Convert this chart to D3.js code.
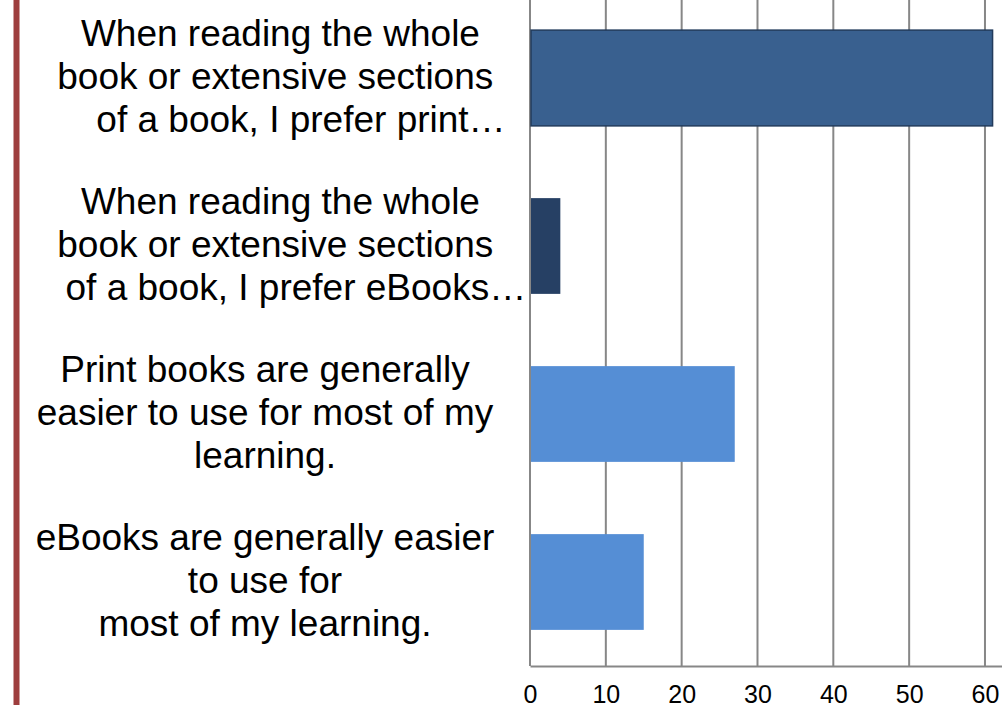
<!DOCTYPE html>
<html>
<head>
<meta charset="utf-8">
<script src="https://cdn.jsdelivr.net/npm/d3@7"></script>
<style>
  body { margin: 0; background: #fff; }
  svg { display: block; font-family: "Liberation Sans", Arial, sans-serif; }
  .label { white-space: pre; }
</style>
</head>
<body>
<div id="chart"></div>
<script>
// --------------------------------------
//  Data
// --------------------------------------

const categories = ["print", "ebooks", "printEasier", "ebooksEasier"];
const values = [61, 4, 27, 15];
const labelLines = [
  ["   When reading the whole", "  book or extensive sections", "       of a book, I prefer print\u2026"],
  ["   When reading the whole", "  book or extensive sections", "      of a book, I prefer eBooks\u2026"],
  ["Print books are generally", "easier to use for most of my", "learning."],
  ["eBooks are generally easier", "to use for", "most of my learning."]
];
const barColors = ["#39608f", "#264064", "#558ed5", "#558ed5"];
const tickValues = [0, 10, 20, 30, 40, 50, 60, 70];

// --------------------------------------
//  Canvas
// --------------------------------------

const width = 1002;
const height = 705;
const plot = { left: 530, top: -6, bottom: 666 };

const svg = d3.select("#chart")
  .append("svg")
  .attr("width", width)
  .attr("height", height);

const x = d3.scaleLinear([0, 70], [plot.left, plot.left + 70 * 7.583]);
const y = d3.scaleBand(categories, [plot.top, plot.bottom])
  .paddingInner(0.43)
  .paddingOuter(0.215);

// left red rule
svg.append("line")
  .attr("x1", 16.5).attr("x2", 16.5)
  .attr("y1", 0).attr("y2", height)
  .attr("stroke", "#9e3e3e")
  .attr("stroke-width", 6);

// gridlines
svg.append("g")
  .selectAll("line")
  .data(tickValues)
  .join("line")
  .attr("x1", d => x(d)).attr("x2", d => x(d))
  .attr("y1", 0).attr("y2", plot.bottom)
  .attr("stroke", "#878787")
  .attr("stroke-width", 2);

// x axis (labels run off the bottom edge, as in the original)
const xAxis = svg.append("g")
  .attr("transform", `translate(0,${plot.bottom})`)
  .call(d3.axisBottom(x).tickValues(tickValues).tickSize(0).tickPadding(19))
  .call(g => g.select(".domain").attr("stroke", "#878787").attr("stroke-width", 2));

xAxis.selectAll("text")
  .attr("font-size", 25)
  .attr("font-family", "Liberation Sans, Arial, sans-serif")
  .attr("fill", "#000");

// bars
svg.append("g")
  .selectAll("rect")
  .data(categories)
  .join("rect")
  .attr("x", x(0) + 1)
  .attr("y", d => y(d))
  .attr("width", (d, i) => x(values[i]) - x(0) - 1)
  .attr("height", y.bandwidth())
  .attr("fill", (d, i) => barColors[i])
  .attr("stroke", (d, i) => i === 0 ? "#223b5c" : "none")
  .attr("stroke-width", 1.5);

// category labels
const lineGap = 43;
svg.append("g")
  .selectAll("text")
  .data(categories)
  .join("text")
  .attr("class", "label")
  .attr("text-anchor", "middle")
  .attr("font-size", 37)
  .attr("fill", "#000")
  .each(function(d, i) {
    const mid = y(d) + y.bandwidth() / 2 + 11;
    d3.select(this)
      .selectAll("tspan")
      .data(labelLines[i])
      .join("tspan")
      .attr("x", 265)
      .attr("y", (t, j) => mid + (j - 1) * lineGap)
      .text(t => t);
  });
</script>
</body>
</html>
